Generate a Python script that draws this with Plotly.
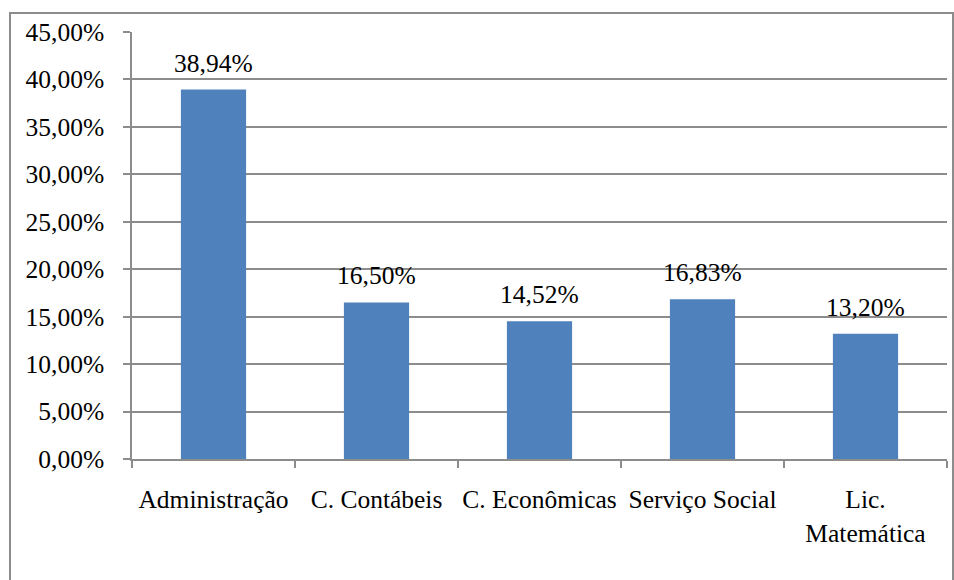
import plotly.graph_objects as go

categories = ["Administração", "C. Contábeis", "C. Econômicas", "Serviço Social", "Lic.<br>Matemática"]
values = [38.94, 16.50, 14.52, 16.83, 13.20]
y_tick_values = [0, 5, 10, 15, 20, 25, 30, 35, 40, 45]

FONT = "'Liberation Serif', 'Times New Roman', serif"
GRAY = "#8c8c8c"
BLUE = "#4F81BD"

def fmt(v):
    return f"{v:.2f}".replace(".", ",") + "%"

fig = go.Figure()
fig.add_trace(go.Bar(
    x=categories, y=values,
    marker=dict(color=BLUE, line=dict(width=0)),
    hoverinfo="skip",
))

for c, v in zip(categories, values):
    fig.add_annotation(
        x=c, y=v, text=fmt(v), showarrow=False,
        xanchor="center", yanchor="bottom", yshift=10,
        font=dict(family=FONT, size=25.5, color="#000000"),
    )

L, R, T, B = 132, 7, 32, 121
W, H = 954, 580
pw, ph = W - L - R, H - T - B

def px_x(x):
    return (x - L) / pw

def px_y(y):
    return (H - B - y) / ph

fig.add_shape(
    type="rect", xref="paper", yref="paper",
    x0=px_x(10), x1=px_x(953), y0=px_y(600), y1=px_y(13),
    line=dict(color=GRAY, width=2), fillcolor="rgba(0,0,0,0)", layer="below",
)

fig.update_layout(
    width=W, height=H,
    margin=dict(l=L, r=R, t=T, b=B, pad=0, autoexpand=False),
    paper_bgcolor="white", plot_bgcolor="white",
    bargap=0.6, showlegend=False,
    font=dict(family=FONT, size=25.5, color="#000000"),
)
fig.update_xaxes(
    type="category", tickson="boundaries", tickangle=0, automargin=False,
    ticks="outside", ticklen=7, tickwidth=1.5, tickcolor=GRAY,
    showline=True, linecolor=GRAY, linewidth=1.5,
    showgrid=False, ticklabelstandoff=17,
    tickfont=dict(family=FONT, size=25.5, color="#000000"),
)
fig.update_yaxes(
    range=[0, 45], tickmode="array", tickvals=y_tick_values,
    ticktext=[fmt(v) for v in y_tick_values], automargin=False,
    ticks="outside", ticklen=7, tickwidth=1.5, tickcolor=GRAY,
    showline=True, linecolor=GRAY, linewidth=1.5,
    showgrid=True, gridcolor=GRAY, gridwidth=1.5, zeroline=False,
    ticklabelstandoff=14,
    tickfont=dict(family=FONT, size=25.5, color="#000000"),
)

fig.write_html("out.html")
